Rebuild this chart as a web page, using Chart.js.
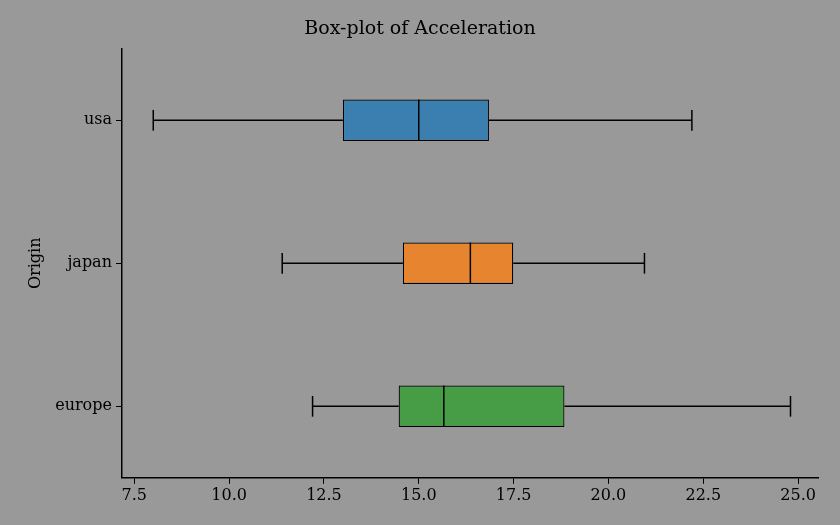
<!DOCTYPE html>
<html><head><meta charset="utf-8">
<script src="https://cdn.jsdelivr.net/npm/chart.js@4/dist/chart.umd.min.js"></script>
<style>html,body{margin:0;background:#999999;}#w{width:840px;height:525px;}</style>
</head><body><div id="w"><canvas id="c"></canvas></div>
<script>
const categories = ["usa","japan","europe"];
const mins = [8.0, 11.4, 12.2];
const q1s = [13.0, 14.58, 14.47];
const medians = [15.0, 16.36, 15.66];
const q3s = [16.85, 17.49, 18.84];
const maxs = [22.2, 20.95, 24.8];
const colors = ["#3b7fb0","#e6842f","#479c46"];
const xTicks = [7.5,10,12.5,15,17.5,20,22.5,25];

const font = {family:"'DejaVu Serif'", size:16};
const whiskers = {
  id:'whiskers',
  afterDatasetsDraw(chart){
    const ctx=chart.ctx, x=chart.scales.x, y=chart.scales.y;
    const meta=chart.getDatasetMeta(0);
    ctx.save(); ctx.strokeStyle='#000'; ctx.lineWidth=1.5;
    categories.forEach((c,i)=>{
      const yc=y.getPixelForValue(i);
      const h=meta.data[i].height;
      const line=(a,b,c2,d)=>{ctx.beginPath();ctx.moveTo(a,b);ctx.lineTo(c2,d);ctx.stroke();};
      line(x.getPixelForValue(mins[i]),yc,x.getPixelForValue(q1s[i]),yc);
      line(x.getPixelForValue(q3s[i]),yc,x.getPixelForValue(maxs[i]),yc);
      line(x.getPixelForValue(mins[i]),yc-h/4,x.getPixelForValue(mins[i]),yc+h/4);
      line(x.getPixelForValue(maxs[i]),yc-h/4,x.getPixelForValue(maxs[i]),yc+h/4);
      line(x.getPixelForValue(medians[i]),yc-h/2,x.getPixelForValue(medians[i]),yc+h/2);
    });
    ctx.restore();
  }
};
new Chart(document.getElementById('c'),{
  type:'bar',
  data:{labels:categories,datasets:[{data:categories.map((c,i)=>[q1s[i],q3s[i]]),
    backgroundColor:colors,borderColor:'#000',borderWidth:1.2,borderSkipped:false,
    barPercentage:0.29,categoryPercentage:1}]},
  options:{indexAxis:'y',responsive:true,maintainAspectRatio:false,animation:false,
    layout:{padding:{top:4,right:22,left:22,bottom:18}},
    plugins:{legend:{display:false},tooltip:{enabled:false},
      title:{display:true,text:'Box-plot of Acceleration',color:'#000',font:{family:"'DejaVu Serif'",size:19,weight:'normal'},padding:{top:14,bottom:8}}},
    scales:{
      x:{min:7.175,max:25.525,afterBuildTicks:s=>{s.ticks=xTicks.map(v=>({value:v}));},
        grid:{drawOnChartArea:false,tickLength:6,color:'#000'},border:{color:'#000',width:1.5},
        ticks:{color:'#000',font,callback:v=>Number(v).toFixed(1),maxRotation:0,padding:2}},
      y:{grid:{drawOnChartArea:false,offset:false,tickLength:6,color:'#000'},border:{color:'#000',width:1.5},
        ticks:{color:'#000',font,padding:4},
        title:{display:true,text:'Origin',color:'#000',font,padding:{bottom:6}}}
    }},
  plugins:[whiskers]
});
</script></body></html>
